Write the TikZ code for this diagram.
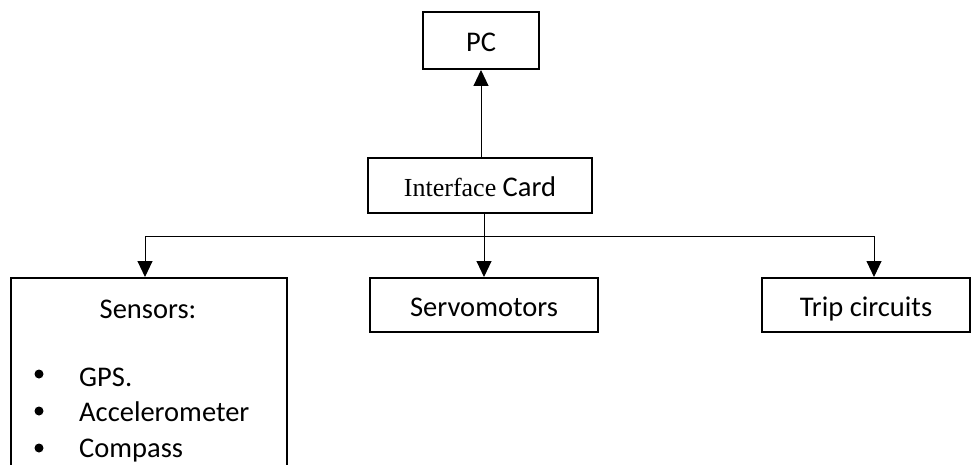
\documentclass[tikz,border=0pt]{standalone}
\usepackage{fontspec}
\setmainfont{Carlito}
\newfontfamily\timesfont{Liberation Serif}
\usetikzlibrary{arrows.meta,calc}

\begin{document}
\begin{tikzpicture}[x=1pt,y=-1pt,
  box/.style={draw, line width=2pt, inner sep=0pt, align=center,
    text height=25.6pt, text depth=2.8pt,
    font=\fontsize{28.5}{34}\selectfont},
  link/.style={line width=1pt},
  arr/.style={link, -{Triangle[width=15pt,length=16pt]}},
  txt/.style={inner sep=0pt, font=\fontsize{28.5}{34}\selectfont},
  dot/.style={fill=black}]
\useasboundingbox (0,0) rectangle (971,465);
\clip (0,0) rectangle (971,465);

% boxes
\node[box, minimum width=116pt, minimum height=57pt] (pc) at (481,40.5) {PC};
\node[box, minimum width=224pt, minimum height=55pt] (ic) at (480,185.5)
  {{\timesfont\fontsize{26}{30}\selectfont Interface} Card};
\node[box, minimum width=228pt, minimum height=54pt] (servo) at (484,305) {Servomotors};
\node[box, minimum width=208pt, minimum height=54pt] (trip) at (866,305) {Trip circuits};
\node[box, minimum width=276pt, minimum height=232pt] (sens) at (149,394) {};

% sensor list
\node[txt, anchor=base] (stitle) at (148,318) {Sensors:};
\node[txt, anchor=base west] (gps) at (79,386) {GPS.};
\node[txt, anchor=base west] (acc) at (79,421) {Accelerometer};
\node[txt, anchor=base west] (cmp) at (79,457) {Compass};
\fill[dot] (39,374) circle (4.5);
\fill[dot] (39,411) circle (4.5);
\fill[dot] (39,448) circle (4.5);

% connectors
\coordinate (busL) at (145,236);
\coordinate (busR) at (874,236);
\draw[arr] (ic.north -| pc) -- (pc.south);
\draw[arr] (ic.south -| servo) -- (servo.north);
\draw[link] (busL) -- (busR);
\draw[arr] (busL) -- (busL |- sens.north);
\draw[arr] (busR) -- (busR |- trip.north);
\end{tikzpicture}
\end{document}
